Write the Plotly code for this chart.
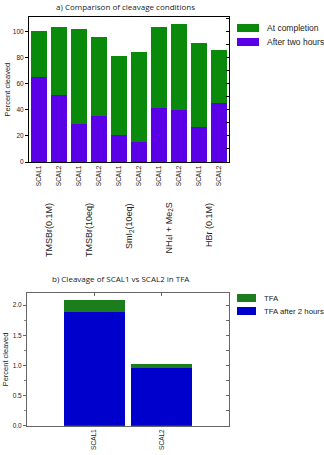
import plotly.graph_objects as go

# ---- data: panel a ----
a_positions = list(range(10))
a_ticklabels = ["SCAL1", "SCAL2"] * 5
a_groups = ["TMSBr(0.1M)", "TMSBr(10eq)", "SmI<sub>2</sub>(10eq)", "NH<sub>4</sub>I + Me<sub>2</sub>S", "HBr (0.1M)"]
a_group_pos = [0.5, 2.5, 4.5, 6.5, 8.5]
a_completion = [100, 103, 101.5, 95.5, 81, 84, 103.5, 105.5, 91, 85.5]
a_two_hours = [65, 51, 29, 35.5, 21, 15, 41.5, 40, 27, 45.5]
a_series_names = ["At completion", "After two hours"]

# ---- data: panel b ----
b_positions = [0, 1]
b_ticklabels = ["SCAL1", "SCAL2"]
b_tfa = [2.09, 1.02]
b_tfa_2h = [1.88, 0.95]
b_series_names = ["TFA", "TFA after 2 hours"]

W, H = 324, 455
def py(px):
    return 1 - px / H
def pxx(px):
    return px / W

GREEN_A = "#0a8a0a"
PURPLE = "#5a00e6"
GREEN_B = "#1b7d1b"
BLUE = "#0000cc"
FONT = "Liberation Sans, Arial, sans-serif"

fig = go.Figure()
fig.add_trace(go.Bar(x=a_positions, y=a_completion, name=a_series_names[0], marker_color=GREEN_A,
                     marker_line_width=0, width=0.82, xaxis="x", yaxis="y"))
fig.add_trace(go.Bar(x=a_positions, y=a_two_hours, name=a_series_names[1], marker_color=PURPLE,
                     marker_line_width=0, width=0.82, xaxis="x", yaxis="y"))
fig.add_trace(go.Bar(x=b_positions, y=b_tfa, name=b_series_names[0], marker_color=GREEN_B,
                     marker_line_width=0, width=0.9, xaxis="x2", yaxis="y2"))
fig.add_trace(go.Bar(x=b_positions, y=b_tfa_2h, name=b_series_names[1], marker_color=BLUE,
                     marker_line_width=0, width=0.9, xaxis="x2", yaxis="y2"))
# invisible helpers for mirrored inside ticks
fig.add_trace(go.Scatter(x=[None], y=[None], xaxis="x3", yaxis="y3", showlegend=False, hoverinfo="skip"))
fig.add_trace(go.Scatter(x=[None], y=[None], xaxis="x4", yaxis="y4", showlegend=False, hoverinfo="skip"))

xa_dom = [pxx(29), pxx(229)]
xb_dom = [pxx(27), pxx(229)]
ya_dom = [py(162), py(17)]
yb_dom = [py(425.7), py(293)]
tickfont = dict(family=FONT, size=6.5, color="#222")

fig.update_layout(
    width=W, height=H, margin=dict(l=0, r=0, t=0, b=0),
    paper_bgcolor="white", plot_bgcolor="white",
    barmode="overlay", bargap=0, showlegend=False,
    font=dict(family=FONT, color="#222"),
    xaxis=dict(domain=xa_dom, range=[-0.5, 9.5], tickmode="array", tickvals=a_positions,
               ticktext=a_ticklabels, tickangle=-90, tickfont=tickfont, ticks="",
               showline=True, linecolor="black", linewidth=1, mirror=True,
               showgrid=False, zeroline=False, anchor="y", automargin=False),
    yaxis=dict(domain=ya_dom, range=[0, 111], dtick=20, tickfont=tickfont, ticks="outside",
               ticklen=3, tickcolor="black", showline=True, linecolor="black", linewidth=1,
               mirror=True, showgrid=False, zeroline=False, anchor="x", automargin=False),
    xaxis3=dict(overlaying="x", range=[-0.5, 9.5], showticklabels=False, ticks="",
                showgrid=False, zeroline=False, anchor="y3", automargin=False),
    yaxis3=dict(overlaying="y", side="right", anchor="free", position=xa_dom[1],
                range=[0, 111], dtick=10, ticks="inside",
                ticklen=3, tickcolor="black", showticklabels=False, showgrid=False,
                zeroline=False, automargin=False),
    xaxis2=dict(domain=xb_dom, range=[-1, 2], tickmode="array", tickvals=b_positions,
                ticktext=b_ticklabels, tickangle=-90, tickfont=tickfont, ticks="",
                showline=True, linecolor="#666", linewidth=1, mirror=True,
                showgrid=False, zeroline=False, anchor="y2", automargin=False),
    yaxis2=dict(domain=yb_dom, range=[0, 2.2], dtick=0.5, tickformat=".1f", tickfont=tickfont,
                ticks="outside", ticklen=3, tickcolor="#666", showline=True, linecolor="#666",
                linewidth=1, mirror=True, showgrid=False, zeroline=False, anchor="x2",
                minor=dict(dtick=0.25, ticks="outside", ticklen=2, tickcolor="#888"),
                automargin=False),
    xaxis4=dict(overlaying="x2", side="top", range=[-1, 2], tickmode="array", tickvals=b_positions,
                ticks="inside", ticklen=3, tickcolor="#666", showticklabels=False,
                showgrid=False, zeroline=False, anchor="y4", automargin=False),
    yaxis4=dict(overlaying="y2", side="right", range=[0, 2.2], dtick=0.25, ticks="inside",
                ticklen=3, tickcolor="#666", showticklabels=False, showgrid=False,
                zeroline=False, anchor="x4", automargin=False),
)

annotations = [
    dict(text="a) Comparison of cleavage conditions", x=pxx(125), y=py(7), xref="paper", yref="paper",
         xanchor="center", yanchor="middle", showarrow=False,
         font=dict(family="Open Sans, sans-serif", size=8, color="#222")),
    dict(text="b) Cleavage of SCAL1 vs SCAL2 in TFA", x=pxx(121), y=py(278), xref="paper", yref="paper",
         xanchor="center", yanchor="middle", showarrow=False,
         font=dict(family="Open Sans, sans-serif", size=8, color="#222")),
    dict(text="Percent cleaved", x=pxx(7), y=(ya_dom[0] + ya_dom[1]) / 2, xref="paper", yref="paper",
         xanchor="center", yanchor="middle", textangle=-90, showarrow=False,
         font=dict(family=FONT, size=7.5, color="#222")),
    dict(text="Percent cleaved", x=pxx(5), y=(yb_dom[0] + yb_dom[1]) / 2, xref="paper", yref="paper",
         xanchor="center", yanchor="middle", textangle=-90, showarrow=False,
         font=dict(family=FONT, size=7.5, color="#222")),
]
for g, xp in zip(a_groups, a_group_pos):
    annotations.append(dict(text=g, x=xp, y=py(201), xref="x", yref="paper", yanchor="top",
                            xanchor="center", textangle=-90, showarrow=False,
                            font=dict(family=FONT, size=9, color="#222")))

# custom legends (patch + label)
shapes = []
legend_specs = [
    (a_series_names, [GREEN_A, PURPLE], 237, 259, [24, 38], 8, 265, 8.5),
    (b_series_names, [GREEN_B, BLUE], 237, 256, [294, 307], 8, 262, 7.8),
]
for names, colors, x0, x1, tops, h, tx, fs in legend_specs:
    for name, col, top in zip(names, colors, tops):
        shapes.append(dict(type="rect", xref="paper", yref="paper", x0=pxx(x0), x1=pxx(x1),
                           y0=py(top + h), y1=py(top), fillcolor=col, line=dict(width=0)))
        annotations.append(dict(text=name, x=pxx(tx), y=py(top + h / 2), xref="paper", yref="paper",
                                xanchor="left", yanchor="middle", showarrow=False,
                                font=dict(family=FONT, size=fs, color="#222")))

fig.update_layout(annotations=annotations, shapes=shapes)

fig.write_html("out.html", config={"displayModeBar": False},
               post_script="document.body.style.margin='0px';document.body.style.overflow='hidden';")
